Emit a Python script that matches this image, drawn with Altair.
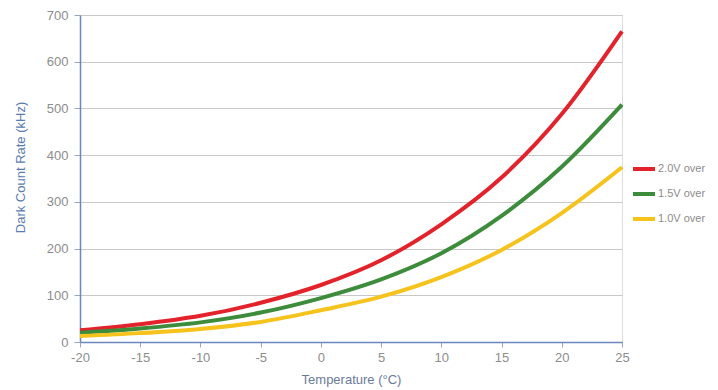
import altair as alt
import pandas as pd

temps = [-20, -15, -10, -5, 0, 5, 10, 15, 20, 25]
rate_20v = [25, 38, 56, 84, 122, 175, 252, 352, 488, 665]
rate_15v = [20, 29, 42, 63, 94, 134, 190, 270, 375, 508]
rate_10v = [13, 19, 28, 43, 68, 97, 139, 197, 276, 374]
series_names = ["2.0V over", "1.5V over", "1.0V over"]
series_colors = ["#e3232b", "#3d8c3c", "#f6c21c"]

rows = []
for name, vals in zip(series_names, [rate_20v, rate_15v, rate_10v]):
    for t, v in zip(temps, vals):
        rows.append({"Temperature": t, "Rate": v, "Series": name})
df = pd.DataFrame(rows)

FONT = "Liberation Sans"

chart = alt.Chart(df).mark_line(strokeWidth=4, interpolate="monotone").encode(
    x=alt.X("Temperature:Q",
            scale=alt.Scale(domain=[-20, 25], nice=False, zero=False),
            axis=alt.Axis(title="Temperature (°C)", values=list(range(-20, 30, 5)),
                          labelExpr="'' + datum.value",
                          grid=False, tickSize=5, labelPadding=4, titlePadding=9,
                          labelFontSize=13, titleFontSize=13, labelColor="#8c8c8c",
                          titleColor="#6b7a99", tickColor="#9aa6c4", domainColor="#6c87bd",
                          domainWidth=1.5, labelFont=FONT, titleFont=FONT,
                          titleFontWeight="normal", labelFlush=False)),
    y=alt.Y("Rate:Q",
            scale=alt.Scale(domain=[0, 700], nice=False),
            axis=alt.Axis(title="Dark Count Rate (kHz)", values=list(range(0, 800, 100)),
                          grid=True, gridColor="#c8c8c8", gridWidth=1,
                          tickSize=6, labelPadding=6, labelFontSize=13, titleFontSize=13,
                          labelColor="#8c8c8c", titleColor="#5a7bb0", tickColor="#9aa6c4",
                          domainColor="#6c87bd", domainWidth=1.5, labelFont=FONT,
                          titleFont=FONT, titleFontWeight="normal",
                          titleX=-60, titleY=152, titleAlign="center",
                          titleBaseline="middle")),
    color=alt.Color("Series:N",
                    scale=alt.Scale(domain=series_names, range=series_colors),
                    legend=alt.Legend(title=None, orient="none", legendX=551, legendY=141,
                                      symbolType="stroke", symbolSize=484,
                                      symbolStrokeWidth=4, labelFontSize=11,
                                      labelColor="#8c8c8c", labelFont=FONT,
                                      labelOffset=1, rowPadding=4)),
).properties(
    width=542, height=327,
    autosize=alt.AutoSizeParams(type="none"),
    padding={"left": 72, "top": 7, "right": 88, "bottom": 48},
).configure_view(
    stroke="#6c87bd", strokeWidth=1.5
).configure(background="white")

chart.save("out.html", embed_options={"renderer": "svg", "actions": False})
